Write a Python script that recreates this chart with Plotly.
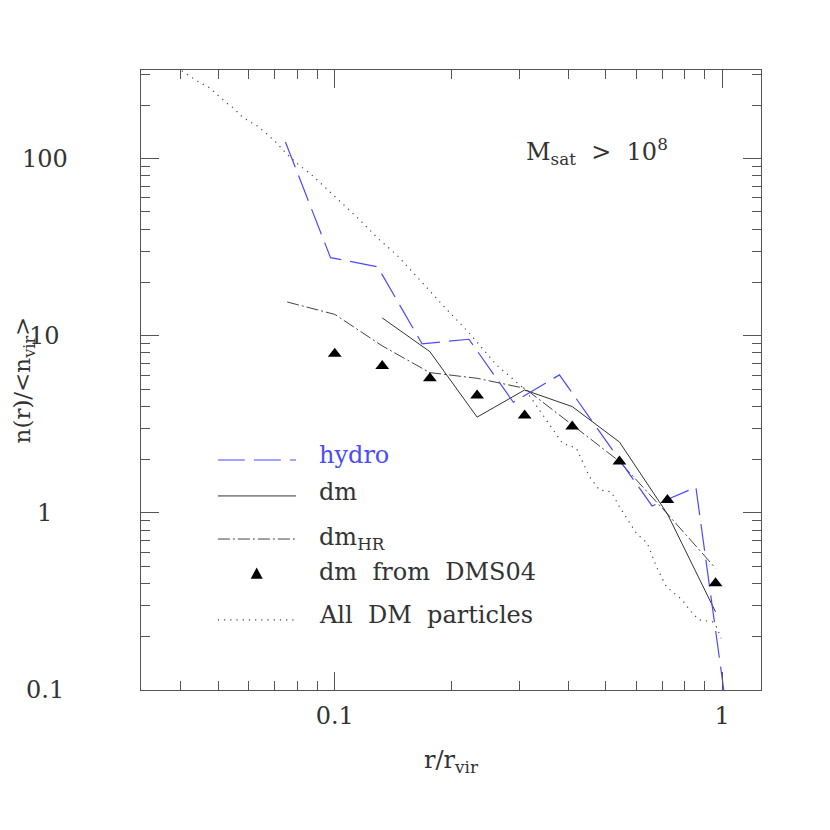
import plotly.graph_objects as go
import math

# ---------------- data ----------------
r_hydro = [0.0746, 0.0975, 0.129, 0.168, 0.222, 0.289, 0.380, 0.659, 0.855, 1.11]
n_hydro = [124, 27.6, 24.5, 9.0, 9.55, 4.21, 6.01, 1.094, 1.395, 0.022]

r_dm = [0.1326, 0.176, 0.233, 0.309, 0.41, 0.543, 0.722, 0.961]
n_dm = [12.6, 8.13, 3.47, 4.94, 3.98, 2.51, 0.986, 0.276]

r_hr = [0.0754, 0.1, 0.1326, 0.176, 0.233, 0.309, 0.41, 0.543, 0.722, 0.961]
n_hr = [15.5, 13.2, 8.76, 6.19, 5.75, 5.05, 3.14, 1.95, 0.986, 0.487]

r_dms04 = [0.1, 0.1326, 0.176, 0.233, 0.309, 0.41, 0.543, 0.722, 0.961]
n_dms04 = [7.9, 6.75, 5.75, 4.6, 3.55, 3.07, 1.95, 1.18, 0.40]

r_all = [0.0403, 0.0444, 0.0474, 0.0500, 0.0527, 0.0546, 0.0576, 0.0593, 0.0630,
         0.0668, 0.0709, 0.0752, 0.0798, 0.0878, 0.0971, 0.1049, 0.1160, 0.1291,
         0.1445, 0.1627, 0.1898, 0.2228, 0.2615, 0.3106, 0.3519, 0.3869, 0.4203,
         0.4541, 0.4819, 0.5175, 0.5427, 0.6003, 0.6409, 0.6760, 0.7172, 0.7887,
         0.8369, 0.8723, 0.9424, 0.9650, 0.9940]
n_all = [312.7, 272.1, 251.7, 226.9, 205.5, 194.1, 172.7, 165.4, 153.0,
         137.9, 122.2, 105.9, 94.2, 79.8, 65.1, 56.0, 45.1, 35.5,
         28.6, 21.6, 14.9, 10.3, 6.84, 4.94, 3.35, 2.47, 2.32,
         1.60, 1.347, 1.312, 1.084, 0.767, 0.673, 0.497, 0.383, 0.322,
         0.271, 0.2485, 0.243, 0.228, 0.196]

x_major = [0.1, 1]
x_major_text = ["0.1", "1"]
x_minor = [0.04, 0.05, 0.06, 0.07, 0.08, 0.09, 0.2, 0.3, 0.4, 0.5, 0.6, 0.7, 0.8, 0.9]
y_major = [0.1, 1, 10, 100]
y_major_text = ["0.1", "1", "10", "100"]
y_minor = [0.2, 0.3, 0.4, 0.5, 0.6, 0.7, 0.8, 0.9, 2, 3, 4, 5, 6, 7, 8, 9,
           20, 30, 40, 50, 60, 70, 80, 90, 200, 300]

NB = "\u00a0"
legend_labels = ["hydro", "dm", "dm<sub>HR</sub>",
                 f"dm{NB}{NB}from{NB}{NB}DMS04", f"All{NB}{NB}DM{NB}{NB}particles"]

# ---------------- styling ----------------
FONT = "DejaVu Serif"
TXT = "#333333"
BLUE = "#4a4aff"
AX = "#555555"

fig = go.Figure()
fig.add_trace(go.Scatter(x=r_all, y=n_all, mode="lines",
                         line=dict(color="#444444", width=1.2, dash="1.2px,5px"), showlegend=False))
fig.add_trace(go.Scatter(x=r_hr, y=n_hr, mode="lines",
                         line=dict(color="#444444", width=1, dash="12px,3px,2px,3px"), showlegend=False))
fig.add_trace(go.Scatter(x=r_dm, y=n_dm, mode="lines",
                         line=dict(color="#333333", width=1), showlegend=False))
fig.add_trace(go.Scatter(x=r_hydro, y=n_hydro, mode="lines",
                         line=dict(color=BLUE, width=1.2, dash="27px,9px"), showlegend=False))
fig.add_trace(go.Scatter(x=r_dms04, y=n_dms04, mode="markers",
                         marker=dict(symbol="triangle-up", size=12, color="black"), showlegend=False))

axis_common = dict(type="log", showgrid=False, zeroline=False, showline=True,
                   linecolor=AX, linewidth=1, mirror="allticks",
                   ticks="inside", ticklen=18, tickwidth=1, tickcolor=AX)

fig.update_xaxes(**axis_common, range=[-1.5, 0.1],
                 tickvals=x_major, ticktext=x_major_text,
                 tickfont=dict(family=FONT, size=24, color=TXT),
                 ticklabelstandoff=4,
                 minor=dict(tickvals=x_minor, ticks="inside", ticklen=9, tickcolor=AX, tickwidth=1, showgrid=False),
                 title=dict(text="r/r<sub>vir</sub>", font=dict(family=FONT, size=24, color=TXT), standoff=22))
fig.update_yaxes(**axis_common, range=[-1, 2.5],
                 tickvals=y_major, showticklabels=False,
                 minor=dict(tickvals=y_minor, ticks="inside", ticklen=9, tickcolor=AX, tickwidth=1, showgrid=False),
                 title=dict(text="n(r)/&lt;n<sub>vir</sub>&gt;", font=dict(family=FONT, size=23, color=TXT), standoff=102))

annotations = []
for v, t in zip(y_major, y_major_text):
    annotations.append(dict(x=-0.155, xref="paper", y=math.log10(v), yref="y", text=t,
                            showarrow=False, xanchor="center", yanchor="middle",
                            font=dict(family=FONT, size=24, color=TXT)))
annotations.append(dict(x=0.618, xref="paper", y=0.868, yref="paper",
                        text=f"M<sub>sat</sub>{NB}{NB}>{NB}{NB}10<sup>8</sup>",
                        showarrow=False, xanchor="left", yanchor="middle",
                        font=dict(family=FONT, size=24, color=TXT)))

# manual legend
leg_y_line = [0.371, 0.313, 0.2435, 0.187, 0.113]
leg_y_text = [0.379, 0.319, 0.245, 0.190, 0.121]
leg_colors = [BLUE, TXT, TXT, TXT, TXT]
shapes = []
leg_styles = [dict(color=BLUE, width=1.2, dash="27px,9px"),
              dict(color="#333333", width=1),
              dict(color="#444444", width=1, dash="12px,3px,2px,3px"),
              None,
              dict(color="#444444", width=1.2, dash="1.2px,5px")]
for i, lab in enumerate(legend_labels):
    st = leg_styles[i]
    if st is not None:
        shapes.append(dict(type="line", xref="paper", yref="paper",
                           x0=0.124, x1=0.250, y0=leg_y_line[i], y1=leg_y_line[i], line=st))
    else:
        cx, cy = 0.1866, leg_y_line[i]
        shapes.append(dict(type="path", xref="paper", yref="paper",
                           path=f"M {cx-0.0097} {cy-0.0075} L {cx+0.0097} {cy-0.0075} L {cx} {cy+0.0105} Z",
                           fillcolor="black", line=dict(color="black", width=0)))
    annotations.append(dict(x=0.284, xref="paper", y=leg_y_text[i], yref="paper", text=lab,
                            showarrow=False, xanchor="left", yanchor="middle",
                            font=dict(family=FONT, size=24, color=leg_colors[i])))

fig.update_layout(width=830, height=830, margin=dict(l=133, r=77, t=62, b=148, autoexpand=False),
                  paper_bgcolor="white", plot_bgcolor="white",
                  annotations=annotations, shapes=shapes, showlegend=False)

fig.write_html("out.html")
